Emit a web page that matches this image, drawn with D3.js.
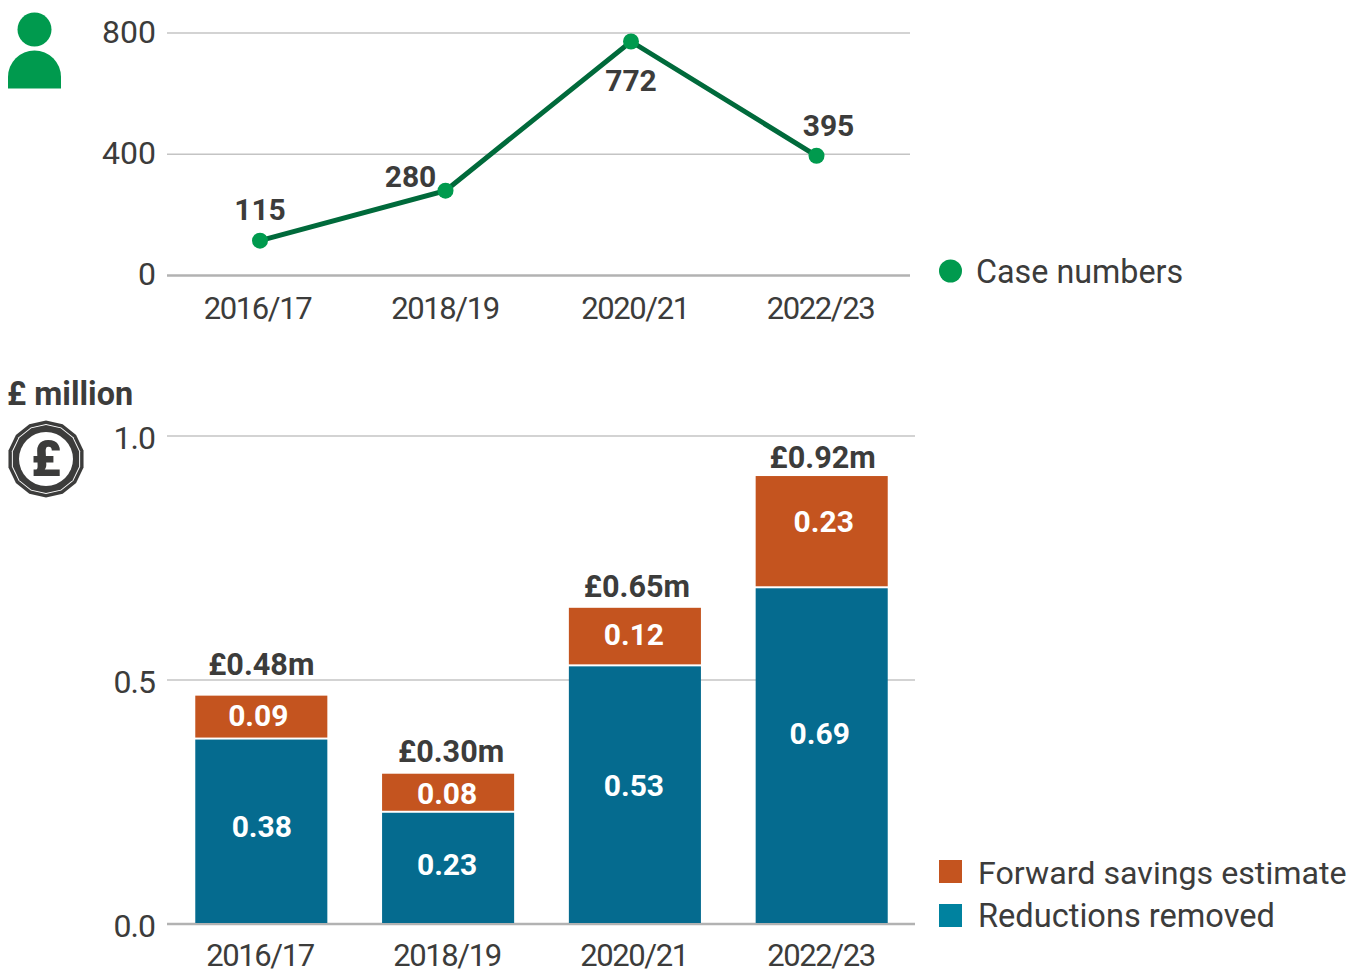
<!DOCTYPE html>
<html><head><meta charset="utf-8">
<script src="https://cdn.jsdelivr.net/npm/d3@7"></script>
<style>
html,body{margin:0;padding:0;background:#fff}
svg{display:block}
text{font-family:Roboto,sans-serif;fill:#3c3c3b}
.b{font-weight:700}
.yr{letter-spacing:-1.4px}
</style></head><body>
<svg id="c" width="1363" height="970"></svg>
<script>
const years = ["2016/17","2018/19","2020/21","2022/23"];
const caseNumbers = [115,280,772,395];
const caseTicks = [0,400,800];
const reductions = [0.38,0.23,0.53,0.69];
const forward = [0.09,0.08,0.12,0.23];
const totals = ["£0.48m","£0.30m","£0.65m","£0.92m"];
const moneyTicks = [0,0.5,1];
const caseLegend = "Case numbers";
const moneyLegend = ["Forward savings estimate","Reductions removed"];

const GREEN="#009a4e", DGREEN="#006a3b", ORANGE="#c4541f", BLUE="#056b8f", LTEAL="#00829f", GRID="#c4c4c4", AXIS="#b2b2b2";
const svg=d3.select("#c");

// top chart
const yC=d3.scaleLinear().domain([0,800]).range([275.5,33]);
const xC=d3.scalePoint().domain(years).range([260,816.5]);
const xCLabDx=[257.5,445,635,820.5];
svg.selectAll(".gc").data(caseTicks).join("line")
  .attr("x1",167).attr("x2",910).attr("y1",d=>yC(d)).attr("y2",d=>yC(d))
  .attr("stroke",d=>d===0?AXIS:GRID).attr("stroke-width",d=>d===0?2.5:1.5);
svg.selectAll(".tc").data(caseTicks).join("text")
  .attr("x",156).attr("y",d=>yC(d)+9.5).attr("text-anchor","end").attr("font-size",32).text(d=>d);
svg.selectAll(".xc").data(years).join("text").attr("class","yr")
  .attr("x",(d,i)=>xCLabDx[i]).attr("y",319).attr("text-anchor","middle").attr("font-size",31).text(d=>d);
svg.append("path").datum(years.map((y,i)=>[xC(y),yC(caseNumbers[i])]))
  .attr("d",d3.line()).attr("fill","none").attr("stroke",DGREEN).attr("stroke-width",5);
svg.selectAll(".pt").data(years).join("circle")
  .attr("cx",d=>xC(d)).attr("cy",(d,i)=>yC(caseNumbers[i])).attr("r",8).attr("fill",GREEN);
const caseDx=[0,-35,0,12], caseDy=[-21,-4,50,-20];
svg.selectAll(".vc").data(years).join("text").attr("class","b")
  .attr("x",(d,i)=>xC(d)+caseDx[i]).attr("y",(d,i)=>yC(caseNumbers[i])+caseDy[i])
  .attr("text-anchor","middle").attr("font-size",30).text((d,i)=>caseNumbers[i]);
svg.append("circle").attr("cx",950.5).attr("cy",271).attr("r",11.5).attr("fill",GREEN);
svg.append("text").attr("x",976).attr("y",283).attr("font-size",32.3).text(caseLegend);

// person icon
svg.append("circle").attr("cx",34.5).attr("cy",29.5).attr("r",17).attr("fill",GREEN);
svg.append("path").attr("d","M8,88.5V77A26.5,26.5 0 0 1 61,77V88.5Z").attr("fill",GREEN);

// bottom chart
const yM=d3.scaleLinear().domain([0,1]).range([924,436]);
const xM=d3.scaleBand().domain(years).range([168,915]).paddingInner(0.293).paddingOuter(0.146);
const xMLab=d3.scalePoint().domain(years).range([260,821]);
svg.selectAll(".gm").data(moneyTicks).join("line")
  .attr("x1",167).attr("x2",915).attr("y1",d=>yM(d)).attr("y2",d=>yM(d))
  .attr("stroke",d=>d===0?AXIS:GRID).attr("stroke-width",d=>d===0?2.5:1.5);
svg.selectAll(".tm").data(moneyTicks).join("text")
  .attr("x",155).attr("y",d=>yM(d)+13).attr("text-anchor","end").attr("font-size",32).style("letter-spacing","-1px").text(d=>d3.format(".1f")(d));
svg.selectAll(".xm").data(years).join("text").attr("class","yr")
  .attr("x",d=>xMLab(d)).attr("y",966).attr("text-anchor","middle").attr("font-size",31).text(d=>d);
svg.selectAll(".br").data(years).join("rect")
  .attr("x",d=>xM(d)).attr("width",xM.bandwidth())
  .attr("y",(d,i)=>yM(reductions[i])+1).attr("height",(d,i)=>yM(0)-yM(reductions[i])-2).attr("fill",BLUE);
svg.selectAll(".bf").data(years).join("rect")
  .attr("x",d=>xM(d)).attr("width",xM.bandwidth())
  .attr("y",(d,i)=>yM(reductions[i]+forward[i])+1).attr("height",(d,i)=>yM(reductions[i])-yM(reductions[i]+forward[i])-2).attr("fill",ORANGE);
const cx=d=>xM(d)+xM.bandwidth()/2;
// label nudges: the reference places these labels by hand
const redDx=[0.5,-1,-1,-2], redDy=[-4,-3,-9,-22];
const fwdDx=[-3,-1,-1,2], fwdDy=[-1,2,-1,-9];
const totDx=[0,3,2,1], totDy=[-20,-11,-10,-7];
svg.selectAll(".lr").data(years).join("text").attr("class","b")
  .attr("x",(d,i)=>cx(d)+redDx[i]).attr("y",(d,i)=>yM(reductions[i]/2)+10+redDy[i]).attr("text-anchor","middle").attr("font-size",30)
  .style("fill","#fff").text((d,i)=>reductions[i].toFixed(2));
svg.selectAll(".lf").data(years).join("text").attr("class","b")
  .attr("x",(d,i)=>cx(d)+fwdDx[i]).attr("y",(d,i)=>yM(reductions[i]+forward[i]/2)+10+fwdDy[i]).attr("text-anchor","middle").attr("font-size",30)
  .style("fill","#fff").text((d,i)=>forward[i].toFixed(2));
svg.selectAll(".lt").data(years).join("text").attr("class","b")
  .attr("x",(d,i)=>cx(d)+totDx[i]).attr("y",(d,i)=>yM(reductions[i]+forward[i])+totDy[i]).attr("text-anchor","middle").attr("font-size",30.6)
  .text((d,i)=>totals[i]);
svg.append("text").attr("class","b").attr("x",7).attr("y",405).attr("font-size",32.4).text("£ million");

// legend
[ORANGE,LTEAL].forEach((c,i)=>{
  svg.append("rect").attr("x",939).attr("y",860+i*44).attr("width",23).attr("height",23).attr("fill",c);
  svg.append("text").attr("x",978).attr("y",884+i*43).attr("font-size",[32.2,32.6][i]).text(moneyLegend[i]);
});

// coin icon
const n=14, poly=r=>d3.range(n).map(i=>{const a=(i+.5)*2*Math.PI/n;return [46+r*Math.cos(a),459+r*Math.sin(a)].join(",")}).join(" ");
svg.append("polygon").attr("points",poly(38.5)).attr("fill","#3c3c3b");
svg.append("polygon").attr("points",poly(35)).attr("fill","#fff");
svg.append("polygon").attr("points",poly(34)).attr("fill","#3c3c3b");
svg.append("circle").attr("cx",46).attr("cy",459).attr("r",27).attr("fill","#fff");
svg.append("text").attr("x",46).attr("y",476).attr("text-anchor","middle").attr("font-size",50).attr("font-weight",900).text("£");
</script>
</body></html>
